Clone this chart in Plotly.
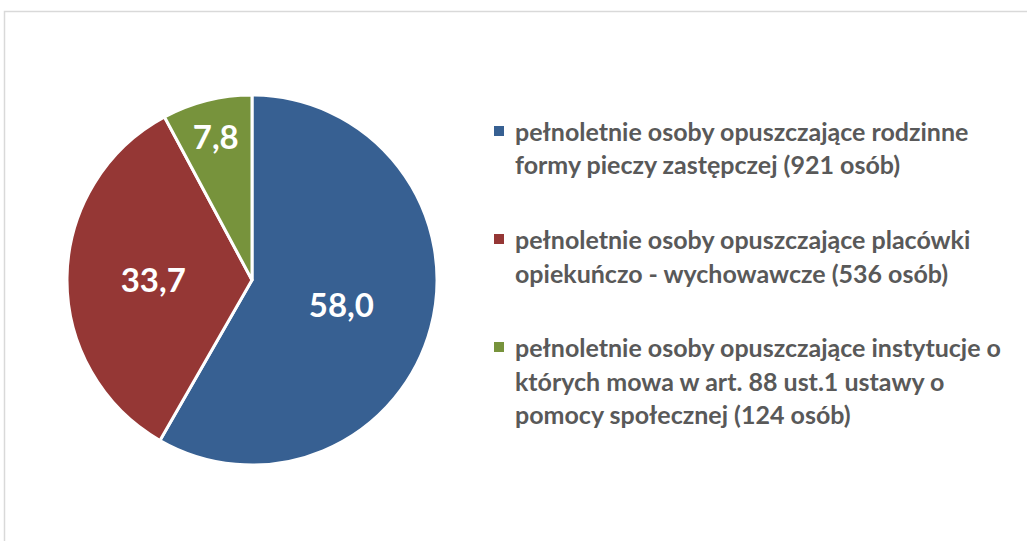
import plotly.graph_objects as go

# udział procentowy i opisy kategorii
values = [58.0, 33.7, 7.8]
categories = [
    "pełnoletnie osoby opuszczające rodzinne formy pieczy zastępczej (921 osób)",
    "pełnoletnie osoby opuszczające placówki opiekuńczo - wychowawcze (536 osób)",
    "pełnoletnie osoby opuszczające instytucje o których mowa w art. 88 ust.1 ustawy o pomocy społecznej (124 osób)",
]
legend_lines = [
    ["pełnoletnie osoby opuszczające rodzinne", "formy pieczy zastępczej (921 osób)"],
    ["pełnoletnie osoby opuszczające placówki", "opiekuńczo - wychowawcze (536 osób)"],
    ["pełnoletnie osoby opuszczające instytucje o", "których mowa w art. 88 ust.1 ustawy o", "pomocy społecznej (124 osób)"],
]
colors = ["#376092", "#953735", "#77933C"]

W, H = 1027, 541

fig = go.Figure()

fig.add_trace(go.Pie(
    labels=categories,
    values=values,
    sort=False,
    direction="clockwise",
    rotation=0,
    marker=dict(colors=colors, line=dict(color="white", width=3)),
    texttemplate="%{value:.1f}",
    textposition="inside",
    insidetextorientation="horizontal",
    textfont=dict(family="Lato", size=33, color="white", weight="bold"),
    domain=dict(x=[(252 - 185) / W, (252 + 185) / W], y=[1 - 465 / H, 1 - 95 / H]),
    showlegend=False,
    hoverinfo="label+value",
))

# legenda rysowana ręcznie (większe odstępy między wierszami)
group_top = [131, 239, 347]
line_gap = 33.5
for i, lines in enumerate(legend_lines):
    y0 = group_top[i]
    fig.add_shape(
        type="rect", xref="paper", yref="paper",
        x0=494 / W, x1=504 / W,
        y0=1 - (y0 + 5) / H, y1=1 - (y0 - 5) / H,
        fillcolor=colors[i], line=dict(width=0),
    )
    for j, txt in enumerate(lines):
        fig.add_annotation(
            x=513 / W, y=1 - (y0 + j * line_gap) / H,
            xref="paper", yref="paper",
            xanchor="left", yanchor="middle",
            text=txt, showarrow=False,
            font=dict(family="Lato", size=25, color="#595959", weight="bold"),
        )

# ramka wykresu
fig.add_shape(
    type="rect", xref="paper", yref="paper",
    x0=4.5 / W, x1=1.02, y0=-0.02, y1=1 - 11.5 / H,
    line=dict(color="#D9D9D9", width=1.5), fillcolor="rgba(0,0,0,0)",
)

fig.update_layout(
    width=W,
    height=H,
    margin=dict(l=0, r=0, t=0, b=0),
    paper_bgcolor="white",
    plot_bgcolor="white",
    separators=", ",
)

fig.write_html(
    "out.html",
    config={"displayModeBar": False},
    post_script="document.body.style.margin='0';",
)
